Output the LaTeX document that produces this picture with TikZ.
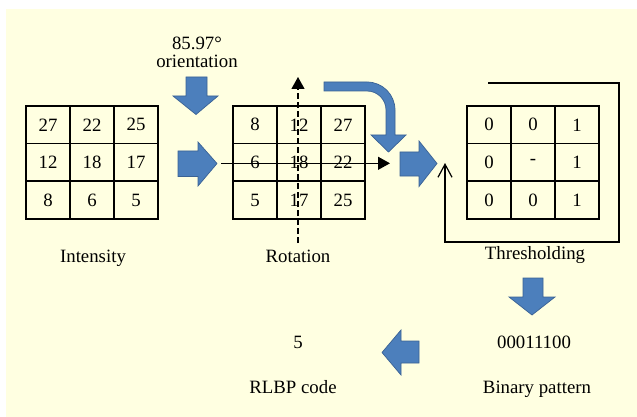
\documentclass[tikz,border=0pt]{standalone}
\usepackage{fontspec}
\setmainfont{Liberation Serif}
\usetikzlibrary{arrows.meta}
\definecolor{bgyellow}{RGB}{255,255,225}
\definecolor{arrowblue}{RGB}{76,127,188}
\definecolor{arrowedge}{RGB}{58,98,148}
\tikzset{
  cell/.style={draw, line width=1.6pt, minimum width=44pt, minimum height=37.6pt, inner sep=0pt, font=\fontsize{18.8}{22}\selectfont},
  lbl/.style={inner sep=0pt, anchor=base, font=\fontsize{18.8}{22}\selectfont},
  blockarrow/.style={fill=arrowblue, draw=arrowedge, line width=0.7pt, line join=miter},
  thinline/.style={line width=1.2pt},
}
\begin{document}
\begin{tikzpicture}[x=1pt,y=-1pt]
\useasboundingbox (0,0) rectangle (637,417);
\fill[white] (0,0) rectangle (637,417);
\fill[bgyellow] (6,9) rectangle (637,417);

% grids
\foreach \v [count=\i from 0] in {27,22,25,12,18,17,8,6,5} {
  \pgfmathtruncatemacro\cc{mod(\i,3)}
  \pgfmathtruncatemacro\rr{div(\i,3)}
  \node[cell] (L\i) at (48+44*\cc, 124.8+37.6*\rr) {\v};
}
\foreach \v [count=\i from 0] in {8,12,27,6,18,22,5,17,25} {
  \pgfmathtruncatemacro\cc{mod(\i,3)}
  \pgfmathtruncatemacro\rr{div(\i,3)}
  \node[cell] (M\i) at (255+44*\cc, 124.8+37.6*\rr) {\v};
}
\foreach \v [count=\i from 0] in {0,0,1,0,-,1,0,0,1} {
  \pgfmathtruncatemacro\cc{mod(\i,3)}
  \pgfmathtruncatemacro\rr{div(\i,3)}
  \node[cell] (R\i) at (489+44*\cc, 124.8+37.6*\rr) {\v};
}

% labels (placed by baseline)
\node[lbl] (deg) at (197,50) {85.97°};
\node[lbl] (orient) at (197,68) {orientation};
\node[lbl] (intensity) at (93,262.5) {Intensity};
\node[lbl] (rotation) at (298,262.5) {Rotation};
\node[lbl] (thresh) at (535,259.5) {Thresholding};
\node[lbl] (code) at (298,348.3) {5};
\node[lbl] (binary) at (534,348.3) {00011100};
\node[lbl] (rlbp) at (293,393.5) {RLBP code};
\node[lbl] (binlbl) at (537,393.5) {Binary pattern};

% block arrows
\draw[blockarrow] (178,151)--(198,151)--(198,142)--(217,163.5)--(198,186)--(198,176.5)--(178,176.5)--cycle;
\draw[blockarrow] (186,77)--(207,77)--(207,96)--(218,96)--(196,114.5)--(173,96)--(186,96)--cycle;
\draw[blockarrow] (324,82)--(367,82) .. controls (382.5,82) and (395,94.5) .. (395,110)
  --(395,135)--(406,135)--(388.5,152)--(371,135)--(386,135)--(386,110)
  .. controls (386,99.5) and (377.5,91) .. (367,91)--(324,91)--cycle;
\draw[blockarrow] (400,152)--(419,152)--(419,141)--(437,163.5)--(419,186.5)--(419,176)--(400,176)--cycle;
\draw[blockarrow] (523,278)--(543,278)--(543,297)--(555,297)--(532,315)--(509,297)--(523,297)--cycle;
\draw[blockarrow] (419,341)--(401,341)--(401,330)--(382,352.5)--(401,375)--(401,363)--(419,363)--cycle;

% rotation axes
\coordinate (vstart) at (298,243);
\coordinate (vend) at (298,77);
\coordinate (hstart) at (221,163.3);
\coordinate (hend) at (390,163.3);
\draw[thinline, dash pattern=on 6pt off 3pt, -{Triangle[width=13pt,length=12pt]}] (vstart) -- (vend);
\draw[thinline, -{Triangle[width=13pt,length=12pt]}] (hstart) -- (hend);

% thresholding loop
\coordinate (bstart) at (488,83);
\coordinate (bend) at (445,163);
\draw[thinline, -{Straight Barb[width=14pt,length=13pt]}] (bstart) -| (619,242) -| (bend);
\end{tikzpicture}
\end{document}
